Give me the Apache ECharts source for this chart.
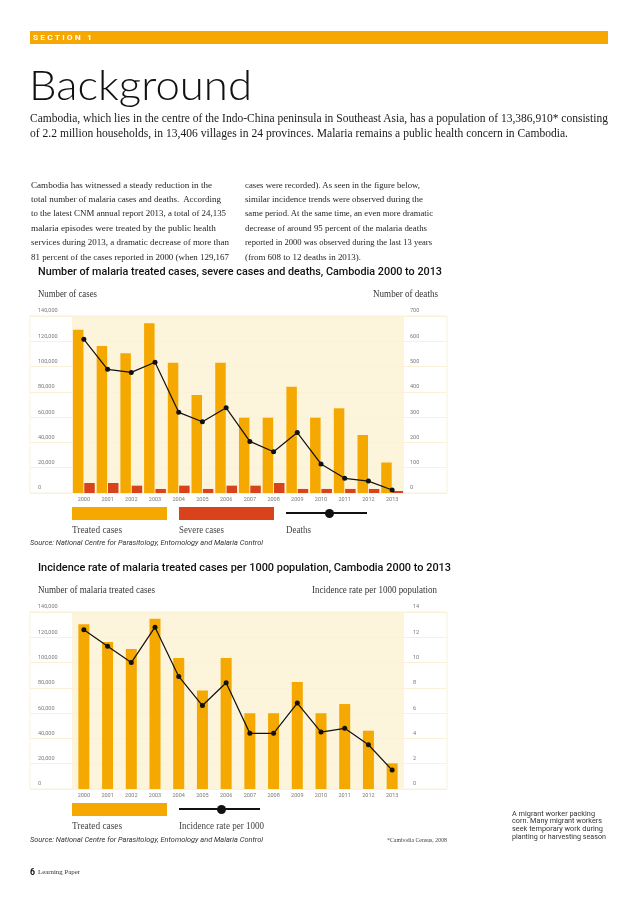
<!DOCTYPE html>
<html>
<head>
<meta charset="utf-8">
<script src="https://cdn.jsdelivr.net/npm/echarts@6/dist/echarts.min.js"></script>
<style>
  html,body{margin:0;padding:0;background:#fff;}
  body{width:638px;height:903px;position:relative;overflow:hidden;}
  .t{position:absolute;white-space:nowrap;line-height:1;transform-origin:0 50%;display:inline-block;filter:grayscale(100%);}
  .serif{font-family:"Liberation Serif","DejaVu Serif",serif;}
  .sans{font-family:"Roboto","Noto Sans",sans-serif;}
  .chart{position:absolute;left:0;width:638px;}
  .box{position:absolute;}
</style>
</head>
<body>
<div class="box" style="left:30px;top:31px;width:578px;height:13px;background:#f6a800;"></div>
<span class="t sans" data-w="61" style="left:33px;top:33.5px;font-size:8px;font-weight:700;letter-spacing:2px;color:#fff;filter:none;">SECTION 1</span>
<span class="t" data-w="223" style="left:29px;top:63px;font-size:42px;font-family:'Lato','Open Sans',sans-serif;font-weight:300;color:#111;">Background</span>

<span class="t serif" data-w="578" style="left:30px;top:112px;font-size:12px;color:#1a1a1a;">Cambodia, which lies in the centre of the Indo-China peninsula in Southeast Asia, has a population of 13,386,910* consisting</span>
<span class="t serif" data-w="538" style="left:30px;top:127px;font-size:12px;color:#1a1a1a;">of 2.2 million households, in 13,406 villages in 24 provinces. Malaria remains a public health concern in Cambodia.</span>

<div id="body"></div>

<div id="c1" class="chart" style="top:280px;height:225px;"></div>
<div id="c2" class="chart" style="top:576px;height:225px;"></div>

<div id="legend"></div>

<script>
// ---------- data ----------
const years = ['2000','2001','2002','2003','2004','2005','2006','2007','2008','2009','2010','2011','2012','2013'];
const treatedCases = [129167,116300,110500,134200,103100,77500,103100,59600,59600,84100,59600,67000,45900,24135];
const severeCases  = [7900,7900,5800,3200,5800,3200,5800,5800,7900,3200,3200,3200,3200,1600];
const deaths       = [608,489,477,517,319,282,337,204,163,239,115,58,47,12];

const treatedCases2 = [130300,116300,110700,134700,103600,78000,103600,59900,59900,84600,59900,67200,46100,20300];
const incidenceRate = [12.6,11.3,10.0,12.8,8.9,6.6,8.4,4.4,4.4,6.8,4.5,4.8,3.5,1.5];

const caseTicks   = [0,20000,40000,60000,80000,100000,120000,140000];
const deathTicks  = [0,100,200,300,400,500,600,700];
const rateTicks   = [0,2,4,6,8,10,12,14];

// ---------- text ----------
const bodyCol1 = [
  ['Cambodia has witnessed a steady reduction in the',181],
  ['total number of malaria cases and deaths.\u00a0 According',190],
  ['to the latest CNM annual report 2013, a total of 24,135',195],
  ['malaria episodes were treated by the public health',185],
  ['services during 2013, a dramatic decrease of more than',198],
  ['81 percent of the cases reported in 2000 (when 129,167',198]
];
const bodyCol2 = [
  ['cases were recorded). As seen in the figure below,',175],
  ['similar incidence trends were observed during the',178],
  ['same period. At the same time, an even more dramatic',188],
  ['decrease of around 95 percent of the malaria deaths',182],
  ['reported in 2000 was observed during the last 13 years',187],
  ['(from 608 to 12 deaths in 2013).',116]
];
let html = '';
function T(txt, left, cy, w, size, cls, style){
  const top = cy - size/2;
  return `<span class="t ${cls}" data-w="${w}" style="left:${left}px;top:${top}px;font-size:${size}px;${style||''}">${txt}</span>`;
}
bodyCol1.forEach((l,i)=>{ html += T(l[0],31,185+14.4*i,l[1],9,'serif','color:#1e1e1e;'); });
bodyCol2.forEach((l,i)=>{ html += T(l[0],245,185+14.4*i,l[1],9,'serif','color:#1e1e1e;'); });

// chart 1 texts
html += T('Number of malaria treated cases, severe cases and deaths, Cambodia 2000 to 2013',38,272.5,404,10.5,'sans','font-weight:500;color:#111;');
html += T('Number of cases',38,295,59,9.5,'serif','color:#333;');
html += T('Number of deaths',373,295,65,9.5,'serif','color:#333;');
html += T('Source: National Centre for Parasitology, Entomology and Malaria Control',30,543,233,7,'sans','font-style:italic;color:#333;');
// chart 2 texts
html += T('Incidence rate of malaria treated cases per 1000 population, Cambodia 2000 to 2013',38,568,413,10.5,'sans','font-weight:500;color:#111;');
html += T('Number of malaria treated cases',38,591,117,9.5,'serif','color:#333;');
html += T('Incidence rate per 1000 population',312,591,125,9.5,'serif','color:#333;');
html += T('Source: National Centre for Parasitology, Entomology and Malaria Control',30,840.5,233,7,'sans','font-style:italic;color:#333;');
html += T('*Cambodia Census, 2008',387,840,60,6,'serif','color:#444;');
// caption
const caption = [['A migrant worker packing',83],['corn. Many migrant workers',90],['seek temporary work during',91],['planting or harvesting season',94]];
caption.forEach((l,i)=>{ html += T(l[0],511.5,814+7.9*i,l[1],7,'sans','color:#333;'); });
// footer
html += T('6',30,872,5,9,'sans','font-weight:700;color:#111;');
html += T('Learning Paper',38,872,42,7,'serif','color:#333;');
document.getElementById('body').innerHTML = html;

// legends
let lg = '';
lg += '<div class="box" style="left:72px;top:507px;width:95px;height:13px;background:#f5a800;"></div>';
lg += '<div class="box" style="left:179px;top:507px;width:95px;height:13px;background:#d8431b;"></div>';
lg += '<div class="box" style="left:286px;top:512px;width:81px;height:2px;background:#111;"></div>';
lg += '<div class="box" style="left:324.5px;top:508.5px;width:9px;height:9px;border-radius:50%;background:#111;"></div>';
lg += T('Treated cases',72,530,50,10,'serif','color:#444;');
lg += T('Severe cases',179,530,45,10,'serif','color:#444;');
lg += T('Deaths',286,530,25,10,'serif','color:#444;');

lg += '<div class="box" style="left:72px;top:803px;width:95px;height:13px;background:#f5a800;"></div>';
lg += '<div class="box" style="left:179px;top:808px;width:81px;height:2px;background:#111;"></div>';
lg += '<div class="box" style="left:217px;top:804.5px;width:9px;height:9px;border-radius:50%;background:#111;"></div>';
lg += T('Treated cases',72,826,50,10,'serif','color:#444;');
lg += T('Incidence rate per 1000',179,826,85,10,'serif','color:#444;');
document.getElementById('legend').innerHTML = lg;

function fit(){
  document.querySelectorAll('[data-w]').forEach(el=>{
    el.style.transform='none';
    const w = el.getBoundingClientRect().width;
    const t = parseFloat(el.dataset.w);
    if (w>0) el.style.transform = 'scaleX(' + (t/w) + ')';
  });
}
fit();
if (document.fonts && document.fonts.ready) document.fonts.ready.then(fit);

// ---------- charts ----------
const CREAM = '#fdf4dc', ORANGE = '#f5a800', RED = '#d8431b';
const labelBase = {fontSize:5.5, color:'#7a7a7a', fontFamily:'Roboto, sans-serif'};
const fmt = v => Number(v).toLocaleString('en-US');

function makeOption(barSeries, lineData, rightTicks, rightMargin){
  return {
    animation:false,
    grid:[
      {left:30, top:36, width:417, height:177, show:true, borderColor:'#fbf1da', borderWidth:1, backgroundColor:'rgba(0,0,0,0)'},
      {left:72, top:36, width:332, height:177, show:true, borderWidth:0, backgroundColor:CREAM}
    ],
    xAxis:[
      {gridIndex:0, type:'category', data:years, show:false},
      {gridIndex:1, type:'category', data:years, axisLine:{show:false}, axisTick:{show:false},
       axisLabel:Object.assign({margin:4, interval:0}, labelBase), splitLine:{show:false}}
    ],
    yAxis:[
      {gridIndex:0, type:'value', min:caseTicks[0], max:caseTicks[caseTicks.length-1], interval:caseTicks[1]-caseTicks[0],
       axisLabel:{show:false}, axisLine:{show:false}, axisTick:{show:false},
       splitLine:{lineStyle:{color:'#fbf1d9', width:1}}},
      {gridIndex:1, type:'value', position:'left', min:caseTicks[0], max:caseTicks[caseTicks.length-1], interval:caseTicks[1]-caseTicks[0],
       axisLine:{show:false}, axisTick:{show:false}, splitLine:{show:false},
       axisLabel:Object.assign({align:'left', margin:34, verticalAlign:'bottom', padding:[0,0,2,0], formatter:fmt}, labelBase)},
      {gridIndex:1, type:'value', position:'right', min:rightTicks[0], max:rightTicks[rightTicks.length-1], interval:rightTicks[1]-rightTicks[0],
       axisLine:{show:false}, axisTick:{show:false}, splitLine:{show:false},
       axisLabel:Object.assign({align:'left', margin:rightMargin, verticalAlign:'bottom', padding:[0,0,2,0]}, labelBase)}
    ],
    series: barSeries.concat([{
      type:'line', xAxisIndex:1, yAxisIndex:2, data:lineData, symbol:'circle', symbolSize:5,
      lineStyle:{color:'#111', width:1.2}, itemStyle:{color:'#111'}, z:5
    }])
  };
}

const c1 = echarts.init(document.getElementById('c1'), null, {renderer:'canvas'});
c1.setOption(makeOption([
  {type:'bar', xAxisIndex:1, yAxisIndex:1, data:treatedCases, itemStyle:{color:ORANGE}, barGap:'8%', barCategoryGap:'8%'},
  {type:'bar', xAxisIndex:1, yAxisIndex:1, data:severeCases, itemStyle:{color:RED}, barGap:'8%', barCategoryGap:'8%'}
], deaths, deathTicks, 6));

const c2 = echarts.init(document.getElementById('c2'), null, {renderer:'canvas'});
c2.setOption(makeOption([
  {type:'bar', xAxisIndex:1, yAxisIndex:1, data:treatedCases2, itemStyle:{color:ORANGE}, barWidth:11}
], incidenceRate, rateTicks, 9));
</script>
</body>
</html>
